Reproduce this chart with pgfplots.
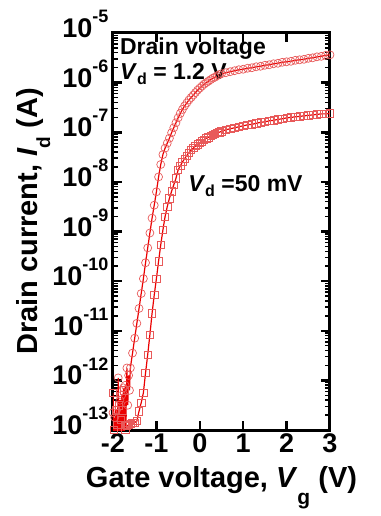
\documentclass[border=0pt]{standalone}
\usepackage{pgfplots}
\usepackage{pgfplotstable}
\pgfplotsset{compat=1.18}
\usepackage{fontspec}
\setmainfont{Liberation Sans}
\newcommand{\ex}[1]{10\raisebox{0.55em}{\fontsize{18}{18}\selectfont #1}}
\definecolor{mk}{RGB}{232,90,90}
\definecolor{ln}{RGB}{235,0,0}

\pgfplotstableread{
x ly
-2.00 -12.65
-1.98 -13.6
-1.96 -12.75
-1.94 -13.5
-1.92 -12.6
-1.90 -13.4
-1.88 -11.95
-1.86 -13.5
-1.84 -12.4
-1.82 -13.3
-1.80 -12.3
-1.78 -13.5
-1.76 -12.15
-1.74 -13.1
-1.72 -12.1
-1.70 -12.9
-1.68 -11.75
-1.66 -12.5
-1.64 -11.9
-1.62 -12.2
-1.60 -11.75
-1.55 -11.45
-1.50 -11.15
-1.45 -10.85
-1.40 -10.55
-1.35 -10.25
-1.30 -9.95
-1.25 -9.63
-1.20 -9.33
-1.15 -9.03
-1.10 -8.73
-1.05 -8.47
-1.00 -8.20
-0.95 -7.90
-0.90 -7.65
-0.85 -7.45
-0.80 -7.32
-0.75 -7.22
-0.70 -7.12
-0.65 -7.01
-0.60 -6.91
-0.55 -6.81
-0.50 -6.71
-0.45 -6.62
-0.40 -6.54
-0.35 -6.47
-0.30 -6.41
-0.25 -6.35
-0.20 -6.30
-0.15 -6.25
-0.10 -6.20
-0.05 -6.15
0.00 -6.11
0.05 -6.07
0.10 -6.03
0.15 -6.00
0.20 -5.97
0.25 -5.94
0.30 -5.91
0.35 -5.89
0.40 -5.86
0.45 -5.84
0.50 -5.82
0.60 -5.80
0.70 -5.78
0.80 -5.76
0.90 -5.74
1.00 -5.73
1.10 -5.71
1.20 -5.70
1.30 -5.68
1.40 -5.67
1.50 -5.65
1.60 -5.64
1.70 -5.62
1.80 -5.61
1.90 -5.59
2.00 -5.58
2.10 -5.57
2.20 -5.55
2.30 -5.54
2.40 -5.53
2.50 -5.51
2.60 -5.50
2.70 -5.48
2.80 -5.47
2.90 -5.45
3.00 -5.44
}\circdata

\pgfplotstableread{
x ly
-2.00 -12.25
-1.98 -13.0
-1.96 -13.6
-1.94 -12.6
-1.92 -13.5
-1.90 -12.9
-1.88 -13.6
-1.86 -12.5
-1.84 -13.4
-1.82 -12.8
-1.80 -13.5
-1.78 -12.6
-1.76 -13.3
-1.74 -12.2
-1.72 -13.0
-1.70 -12.9
-1.68 -12.92
-1.65 -12.90
-1.60 -12.88
-1.55 -12.86
-1.50 -12.85
-1.45 -12.82
-1.40 -12.62
-1.35 -12.45
-1.30 -12.25
-1.25 -11.85
-1.20 -11.48
-1.15 -11.08
-1.10 -10.65
-1.05 -10.28
-1.00 -9.95
-0.95 -9.60
-0.90 -9.27
-0.85 -8.97
-0.80 -8.70
-0.75 -8.50
-0.70 -8.33
-0.65 -8.19
-0.60 -8.06
-0.55 -7.93
-0.50 -7.76
-0.45 -7.68
-0.40 -7.60
-0.35 -7.53
-0.30 -7.47
-0.25 -7.41
-0.20 -7.36
-0.15 -7.32
-0.10 -7.28
-0.05 -7.24
0.00 -7.21
0.05 -7.18
0.10 -7.15
0.15 -7.12
0.20 -7.10
0.25 -7.07
0.30 -7.05
0.35 -7.03
0.40 -7.01
0.45 -7.00
0.50 -6.98
0.60 -6.95
0.70 -6.93
0.80 -6.91
0.90 -6.89
1.00 -6.87
1.10 -6.85
1.20 -6.84
1.30 -6.82
1.40 -6.80
1.50 -6.79
1.60 -6.77
1.70 -6.76
1.80 -6.74
1.90 -6.73
2.00 -6.71
2.10 -6.70
2.20 -6.69
2.30 -6.68
2.40 -6.67
2.50 -6.66
2.60 -6.65
2.70 -6.64
2.80 -6.63
2.90 -6.63
3.00 -6.62
}\sqdata

\begin{document}
\begin{tikzpicture}
\useasboundingbox (-113pt,-86pt) rectangle (267pt,430pt);
\begin{axis}[
  at={(0pt,0pt)}, anchor=south west,
  scale only axis, width=217pt, height=397pt,
  ymode=log, xmin=-2, xmax=3, ymin=1e-13, ymax=1e-5,
  xtick={-2,-1,0,1,2,3}, xticklabels={-2,-1,0,1,2,3},
  ytickten={-13,-12,-11,-10,-9,-8,-7,-6,-5},
  yticklabels={\ex{-13},\ex{-12},\ex{-11},\ex{-10},\ex{-9},\ex{-8},\ex{-7},\ex{-6},\ex{-5}},
  axis line style={line width=3pt},
  tick align=inside,
  major tick length=9pt, minor tick length=5pt,
  major tick style={black, line width=2.5pt},
  minor tick style={black, line width=1.5pt},
  xticklabel style={font=\fontsize{27}{27}\selectfont\bfseries},
  yticklabel style={font=\fontsize{27}{27}\selectfont\bfseries, yshift=9pt, xshift=-1pt},
  xlabel={Gate voltage, \textit{V}\raisebox{-17pt}{\fontsize{21}{21}\selectfont g} (V)},
  ylabel={Drain current, \textit{I}\raisebox{-13pt}{\fontsize{19}{19}\selectfont d} (A)},
  xlabel style={font=\fontsize{29}{29}\selectfont\bfseries, at={(axis description cs:0.5,-0.146)}, anchor=base, inner sep=0pt},
  ylabel style={font=\fontsize{29}{29}\selectfont\bfseries, at={(axis description cs:-0.35,0.525)}, anchor=base, inner sep=0pt},
]
\addplot[only marks, mark=o, mark size=4pt, mark options={draw=mk, line width=0.7pt}] table[x=x, y expr={10^(\thisrow{ly})}] {\circdata};
\addplot[only marks, mark=square, mark size=3.7pt, mark options={draw=mk, line width=0.7pt}] table[x=x, y expr={10^(\thisrow{ly})}] {\sqdata};
\addplot[ln, line width=1.2pt, no marks] table[x=x, y expr={10^(\thisrow{ly})}] {\circdata};
\addplot[ln, line width=1.2pt, no marks] table[x=x, y expr={10^(\thisrow{ly})}] {\sqdata};
\node[anchor=base west, inner sep=0pt, font=\fontsize{23}{23}\selectfont\bfseries] at (rel axis cs:0.032,0.945) {Drain voltage};
\node[anchor=base west, inner sep=0pt, font=\fontsize{23}{23}\selectfont\bfseries] at (rel axis cs:0.032,0.882) {\textit{V}\raisebox{-5pt}{\fontsize{16}{16}\selectfont d} = 1.2 V};
\node[anchor=base west, inner sep=0pt, font=\fontsize{23}{23}\selectfont\bfseries] at (rel axis cs:0.346,0.60) {\textit{V}\raisebox{-5pt}{\fontsize{16}{16}\selectfont d} =50 mV};
\end{axis}
\end{tikzpicture}
\end{document}
